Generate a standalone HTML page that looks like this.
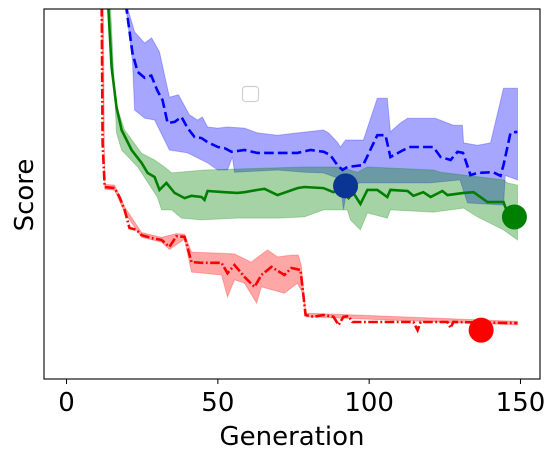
<!DOCTYPE html>
<html><head><meta charset="utf-8"><style>
body{margin:0;background:#fff;}
svg{display:block;font-family:"DejaVu Sans","Liberation Sans",sans-serif;}
</style></head><body>
<svg id="chart" width="556" height="460"></svg>
<script>
const blueG=[19,21.8,23.5,25.8,28,30,31.7,33.4,35.7,38,40,42.3,44.6,46.6,50,52.2,54.5,58.8,63,67.7,72,76.3,80.6,85,87.2,89.5,91.2,92.8,98,102.7,105.4,107,111.3,113.6,121.2,123.6,126.9,129.2,131,133.5,135.8,141,143.4,144.4,146.7,149];
const blueMean=[105,88,83,81.4,82,78,75.4,69.2,69.5,70.8,67.8,65.4,65.1,64,62.7,62.4,61.4,61.9,61.1,61.1,61.1,61.1,61.9,61.4,60.5,57.8,56.5,57.3,57.8,65.9,65.9,60,61.9,62.7,62.7,60,59.2,61.4,61.1,55.1,55.7,55.9,54.9,57.8,66.5,66.8];
const blueUpG=[18.5,22.5,25.8,28.1,30.7,34,37,40.6,43.3,44.9,46.6,49.9,53.2,58.8,63.1,69.7,76.3,84.9,86.6,89.5,90.5,92.2,98.1,102.7,106,107,110.3,112.7,121.9,127.8,130.8,131.2,135.8,140.1,144.4,149];
const blueUp=[105,93.8,90.8,92.2,88.4,76.2,76.8,71.4,70,70.8,68.1,67.8,68.1,67.8,66.5,65.9,66.5,67.3,66.5,64,62.7,64.6,64.6,75.9,75.9,66.8,69.2,70.5,70.5,68.6,68.6,63.8,63.2,63.8,78.6,78.6];
const blueLoG=[19,21.8,22.5,25.8,29.1,34,40,46.6,49.9,53.2,54.8,55.5,69.7,78.6,84.9,90.5,91.5,92.8,97,120,130,132.5,144.4,145,149];
const blueLo=[105,85.7,72.7,70.5,70,61.9,61.1,58.4,56.5,56.5,60,55.9,56.5,55.9,55.7,54,45.7,52,53,53,53.8,47.6,47,55,53.8];
const greenG=[13.5,14.9,16.5,18.2,21.5,24.8,26.8,29.1,30.7,33,35.7,39,41.3,44.6,45.6,46.6,52.2,56.5,58.8,63.1,65.4,69.7,76.3,78.6,84.9,88.2,90.5,93.2,94.8,97.1,99.4,102.7,106,107,112.7,114.6,117.9,120.3,124.2,125.9,131.2,134.5,139.1,144.4,145.7,149];
const greenMean=[105,84.3,73.5,67.3,61.9,58.4,55.7,54.6,51.1,53,50.3,48.9,49.5,49.2,48.4,50.8,50.5,50.3,50.5,51.1,51.4,49.7,51.6,51.9,51.6,50.5,51.6,48.9,50.3,47.3,51.1,51.1,49.2,51.1,50.8,49.5,50.5,49.2,50.8,49.7,50.3,50.5,47.8,47.8,44.9,43.8];
const greenUpG=[13.3,15.9,19.2,24.8,29.1,32.4,34.7,45.6,78.6,90.5,96.1,99.4,121.2,123.6,144.4,145.7,149];
const greenUp=[105,75.4,67.3,61,59.2,57.3,55.7,56.5,57.3,57.3,55.9,57.3,56.5,55.9,53.8,53,52.4];
const greenLoG=[14.3,16.5,18.2,23.5,30,31.4,34.7,38,44.6,56.5,69.7,78.6,84.9,92.8,93.8,97.1,99.4,106,107,121.2,131.2,135.8,144.4,149];
const greenLo=[105,66.5,61.9,57.3,49.2,45.7,45.7,43.5,43,43.5,43.5,43.8,45.7,45.7,43,40.3,44.9,43.5,45.7,45.1,46.2,43.8,40.3,37.6];
const redG=[11.6,11.9,12.6,15.9,17.5,19.2,20.8,23.1,24.8,28.1,31.4,34,36.3,39,41.3,44.6,51.2,53.2,55.5,58.8,62.1,64.4,67.7,72,74.3,77.3,79,81.6,84.9,88.2,89.9,91.5,93.2,94.5,114.6,116,117,125.9,126.9,127.8,149];
const redMean=[105,63.8,51.9,51.6,49.2,45.7,40.8,40.3,38.9,38.1,37.6,35.7,38.6,38.4,31.6,31.4,31.4,28.6,30.8,27.6,24.9,28.1,30.3,28.1,30,29.5,17.3,16.8,17.3,16.8,14.6,16.8,17,15.4,15.4,13.2,15.4,15.4,13.8,15.4,15.1];
const redUpG=[11.4,12.6,15.9,19.2,24.8,31.4,36.3,39,41.3,51.2,55.5,61,66.4,69.7,74.3,76.6,77.6,79,149];
const redUp=[105,52.6,52.4,46.5,39.6,38.3,39.3,39.1,34.3,34,33.8,31.6,34.9,33,33.5,33.5,30.5,17.8,15.6];
const redLoG=[12.1,12.6,15.9,19.2,24.8,31.4,34,39,41.3,51.2,53.2,55.5,58.8,62.8,64.4,72,76.3,78,79.2,149];
const redLo=[105,51.3,51,45,38.3,37,35,37.8,28.9,28.1,22.2,26.8,25.9,20.5,24.9,23.2,25.9,23.2,16.8,14.6];
const xTicks=[0,50,100,150];
const markers=[{g:92.2,s:52.2,c:"#0b3593",n:"blue-best-marker"},{g:148,s:43.8,c:"#008000",n:"green-best-marker"},{g:137,s:13.2,c:"#ff0000",n:"red-best-marker"}];

const L=44,R=540,T=9,B=379;
const xMin=-7.45,xMax=156.45,yMin=0,yMax=100;
const xs=g=>L+(g-xMin)/(xMax-xMin)*(R-L);
const ys=s=>B-(s-yMin)/(yMax-yMin)*(B-T);
const NS="http://www.w3.org/2000/svg";
const svg=document.getElementById('chart');
function mk(tag,attrs,parent){const e=document.createElementNS(NS,tag);for(const k in attrs)e.setAttribute(k,attrs[k]);(parent||svg).appendChild(e);return e;}
const defs=mk('defs',{});
const cp=mk('clipPath',{id:'clip'},defs);
mk('rect',{x:L,y:T,width:R-L,height:B-T},cp);
const plot=mk('g',{'clip-path':'url(#clip)'});


function line(gs,vs){return gs.map((g,i)=>(i?'L':'M')+xs(g).toFixed(1)+','+ys(vs[i]).toFixed(1)).join('');}
function band(ug,uv,lg,lv,fill,stroke,name){
  let d=line(ug,uv);
  for(let i=lg.length-1;i>=0;i--)d+='L'+xs(lg[i]).toFixed(1)+','+ys(lv[i]).toFixed(1);
  d+='Z';
  const p=mk('path',{d:d,fill:fill,stroke:stroke,'stroke-width':1},plot);
  
  
}
band(blueUpG,blueUp,blueLoG,blueLo,'rgba(0,0,255,0.35)','rgba(0,0,255,0.25)','blue-band');
band(greenUpG,greenUp,greenLoG,greenLo,'rgba(0,128,0,0.35)','rgba(0,128,0,0.25)','green-band');
band(redUpG,redUp,redLoG,redLo,'rgba(255,0,0,0.35)','rgba(255,0,0,0.25)','red-band');
const bl=mk('path',{d:line(blueG,blueMean),fill:'none',stroke:'#0000ff','stroke-width':2.6,'stroke-dasharray':'9.6,4.2'},plot);


const gl=mk('path',{d:line(greenG,greenMean),fill:'none',stroke:'#008000','stroke-width':2.6},plot);


const rl=mk('path',{d:line(redG,redMean),fill:'none',stroke:'#ff0000','stroke-width':2.6,'stroke-dasharray':'9.6,2.5,1.8,2.5'},plot);


markers.forEach(m=>{
  const c=mk('circle',{cx:xs(m.g),cy:ys(m.s),r:12.5,fill:m.c});
  
  
});
const frame=mk('rect',{x:L,y:T,width:R-L,height:B-T,fill:'none',stroke:'#000','stroke-width':1.1});


xTicks.forEach(t=>{
  const x=xs(t);
  const tk=mk('line',{x1:x,x2:x,y1:B,y2:B+5,stroke:'#000','stroke-width':1});
  
  
  const tx=mk('text',{x:x,y:411,'text-anchor':'middle','font-size':26,fill:'#000'});
  tx.textContent=t;
  
  
});
const leg=mk('rect',{x:242.5,y:86.5,width:16,height:15,rx:3,fill:'#fff',stroke:'#d0d0d0','stroke-width':1.2});


const xl=mk('text',{x:292,y:445,'text-anchor':'middle','font-size':26,fill:'#000'});
xl.textContent='Generation';


const yl=mk('text',{x:0,y:0,'text-anchor':'middle','font-size':26,fill:'#000',transform:'translate(33,195) rotate(-90)'});
yl.textContent='Score';


</script>
</body></html>
